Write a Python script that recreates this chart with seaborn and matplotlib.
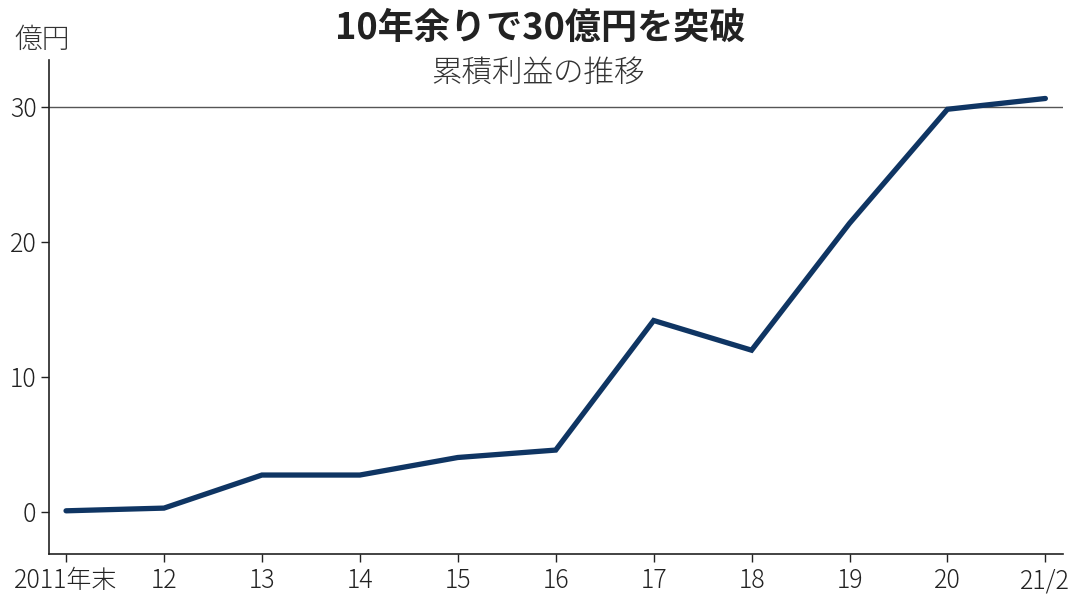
import matplotlib
matplotlib.use("Agg")
import matplotlib.pyplot as plt
import seaborn as sns
import pandas as pd

periods = ["2011年末", "12", "13", "14", "15", "16", "17", "18", "19", "20", "21/2"]
profit = [0.1, 0.3, 2.75, 2.75, 4.05, 4.6, 14.2, 12.0, 21.4, 29.85, 30.65]
yticks = [0, 10, 20, 30]

title = "10年余りで30億円を突破"
subtitle = "累積利益の推移"
unit = "億円"

sns.set_theme(style="ticks")
plt.rcParams['font.family'] = ['Noto Sans CJK JP', 'DejaVu Sans']

df = pd.DataFrame({"x": range(len(periods)), "y": profit})

fig = plt.figure(figsize=(10.78, 6.04), dpi=100)
ax = fig.add_axes([49/1078, 1 - 554/604, (1063-49)/1078, (554-60)/604])

ax.axhline(30, color="#555555", lw=1.0, zorder=1)
sns.lineplot(data=df, x="x", y="y", ax=ax, color="#0f3563", lw=3.8,
             solid_joinstyle="miter", solid_capstyle="round", zorder=3)

ax.set_xlim(-0.174, 10.18)
ax.set_ylim(-3.1, 33.5)
ax.set_xticks(range(len(periods)))
ax.set_xticklabels(periods)
ax.set_yticks(yticks)
ax.set_yticklabels([str(v) for v in yticks])
ax.set_xlabel("")
ax.set_ylabel("")
ax.tick_params(axis="both", labelsize=18, colors="#222222", length=6, width=1, direction="out")
ax.tick_params(axis="x", pad=4)
ax.tick_params(axis="y", pad=3)
for lbl in ax.get_xticklabels() + ax.get_yticklabels():
    lbl.set_fontweight("light")
for s in ["top", "right"]:
    ax.spines[s].set_visible(False)
for s in ["left", "bottom"]:
    ax.spines[s].set_color("#222222")
    ax.spines[s].set_linewidth(1.2)

fig.text(540/1078, 1 - 28/604, title, ha="center", va="center", fontsize=26,
         fontweight="bold", color="#222222")
fig.text(538/1078, 1 - 73/604, subtitle, ha="center", va="center", fontsize=22,
         fontweight="light", color="#333333")
fig.text(42/1078, 1 - 40/604, unit, ha="center", va="center", fontsize=20,
         fontweight="light", color="#333333")

fig.savefig("out.png", dpi=100, facecolor="white")
